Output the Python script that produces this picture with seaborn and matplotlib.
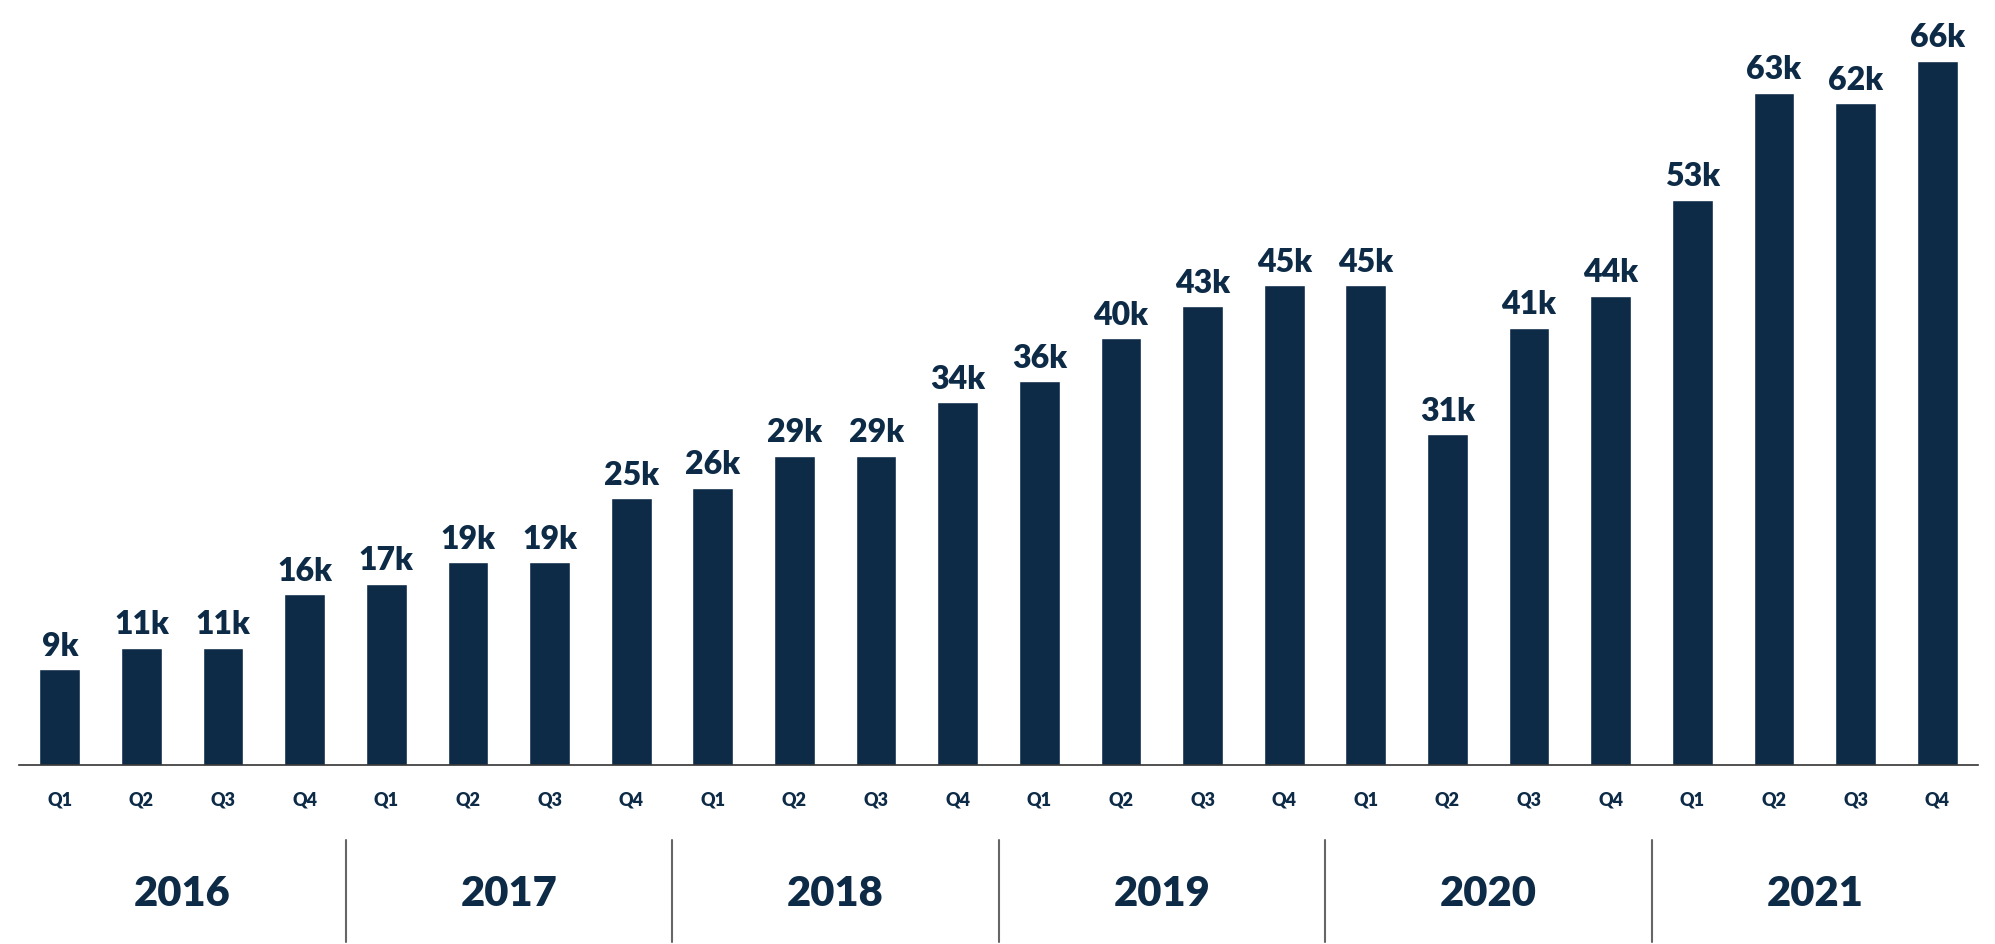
import matplotlib
matplotlib.use("Agg")
import matplotlib.pyplot as plt
import seaborn as sns
import pandas as pd

years = ["2016", "2017", "2018", "2019", "2020", "2021"]
quarters = ["Q1", "Q2", "Q3", "Q4"]
values = [9, 11, 11, 16, 17, 19, 19, 25, 26, 29, 29, 34,
          36, 40, 43, 45, 45, 31, 41, 44, 53, 63, 62, 66]
value_labels = [f"{v}k" for v in values]

periods = [f"{y} {q}" for y in years for q in quarters]
df = pd.DataFrame({"period": periods, "value": values})

NAVY = "#0d2b47"

sns.set_theme(style="white")
plt.rcParams["font.family"] = ["Lato", "DejaVu Sans"]

fig = plt.figure(figsize=(19.95, 9.44), dpi=100)
ax = fig.add_axes([19 / 1995, 179 / 944, (1978 - 19) / 1995, 765 / 944])

sns.barplot(data=df, x="period", y="value", order=periods, color=NAVY,
            saturation=1, width=0.5, ax=ax)

ax.set_xlim(-0.5, len(periods) - 0.5)
ax.set_ylim(0, 71.7)
ax.set_xlabel("")
ax.set_ylabel("")
ax.set_yticks([])
for s in ["top", "right", "left"]:
    ax.spines[s].set_visible(False)
ax.spines["bottom"].set_color("#333333")
ax.spines["bottom"].set_linewidth(1.2)

ax.set_xticks(range(len(periods)))
ax.set_xticklabels([q for y in years for q in quarters], fontsize=13,
                   fontweight="heavy", color=NAVY)
ax.tick_params(axis="x", length=0, pad=19)

ax.bar_label(ax.containers[0], labels=value_labels, padding=6,
             fontsize=23, fontweight="heavy", color=NAVY)

trans = ax.get_xaxis_transform()
axh = 765.0
for i, y in enumerate(years):
    ax.text(i * 4 + 1.5, -129 / axh, y, transform=trans, ha="center",
            va="center", fontsize=30, fontweight="heavy", color=NAVY)
    if i > 0:
        ax.plot([i * 4 - 0.5, i * 4 - 0.5], [-75 / axh, -177 / axh],
                transform=trans, color="#666666", lw=1.5, clip_on=False)

fig.savefig("out.png", dpi=100)
